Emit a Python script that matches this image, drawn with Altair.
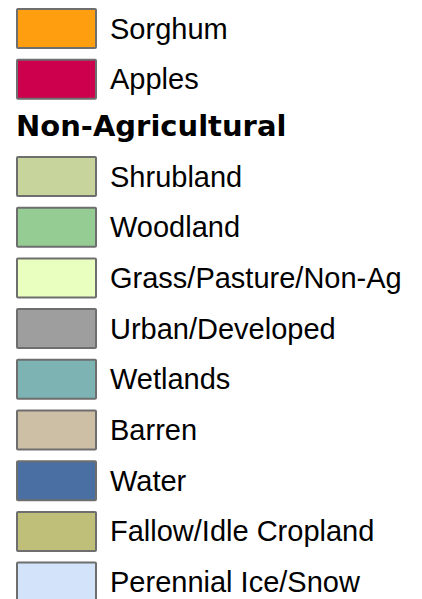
import altair as alt
import pandas as pd

# ---- data -------------------------------------------------------------
ag_labels = ["Sorghum", "Apples"]
ag_colors = ["#FF9E0F", "#CC004D"]

heading = "Non-Agricultural"

nonag_labels = [
    "Shrubland", "Woodland", "Grass/Pasture/Non-Ag", "Urban/Developed",
    "Wetlands", "Barren", "Water", "Fallow/Idle Cropland", "Perennial Ice/Snow",
]
nonag_colors = [
    "#C7D49C", "#94CC94", "#E8FFC0", "#9E9E9E",
    "#7DB3B3", "#CCBFA5", "#4A6FA3", "#BFBF7A", "#D3E3FA",
]

# ---- layout constants (px) ------------------------------------------
W, H = 406, 591
PITCH = 50.7        # row pitch
SWATCH = 39         # swatch height (stroke centre to stroke centre)
GROUP_TOP = 148     # top of first non-ag row
HEAD_BASE = 128     # heading baseline
TEXT_BASE = 30.5    # label baseline below row top

rows = []
for i, (lab, col) in enumerate(zip(ag_labels, ag_colors)):
    rows.append({"label": lab, "color": col, "top": i * PITCH})
for j, (lab, col) in enumerate(zip(nonag_labels, nonag_colors)):
    rows.append({"label": lab, "color": col, "top": GROUP_TOP + j * PITCH})
df = pd.DataFrame(rows)
df["y1"] = df["top"] + 1
df["y2"] = df["top"] + 1 + SWATCH
df["ty"] = df["top"] + TEXT_BASE

head_df = pd.DataFrame({"label": [heading], "ty": [HEAD_BASE]})

yscale = alt.Scale(domain=[0, H], reverse=True, nice=False, zero=False)

swatches = alt.Chart(df).mark_rect(
    stroke="#6E6E6E", strokeWidth=2, cornerRadius=1
).encode(
    x=alt.value(9), x2=alt.value(88),
    y=alt.Y("y1:Q", scale=yscale, axis=None),
    y2="y2:Q",
    fill=alt.Color("color:N", scale=None),
)

labels = alt.Chart(df).mark_text(
    align="left", baseline="alphabetic", font="Liberation Sans",
    fontSize=29, color="#000000",
).encode(
    x=alt.value(102),
    y=alt.Y("ty:Q", scale=yscale, axis=None),
    text="label:N",
)

head = alt.Chart(head_df).mark_text(
    align="left", baseline="alphabetic", font="DejaVu Sans",
    fontWeight="bold", fontSize=29, color="#000000",
).encode(
    x=alt.value(8),
    y=alt.Y("ty:Q", scale=yscale, axis=None),
    text="label:N",
)

chart = alt.layer(swatches, labels, head).properties(
    width=W, height=H,
    autosize=alt.AutoSizeParams(type="none"),
    padding=0,
    background="#ffffff",
).configure_view(stroke=None, strokeWidth=0)

chart.save("out.html", embed_options={"renderer": "svg", "actions": False})
